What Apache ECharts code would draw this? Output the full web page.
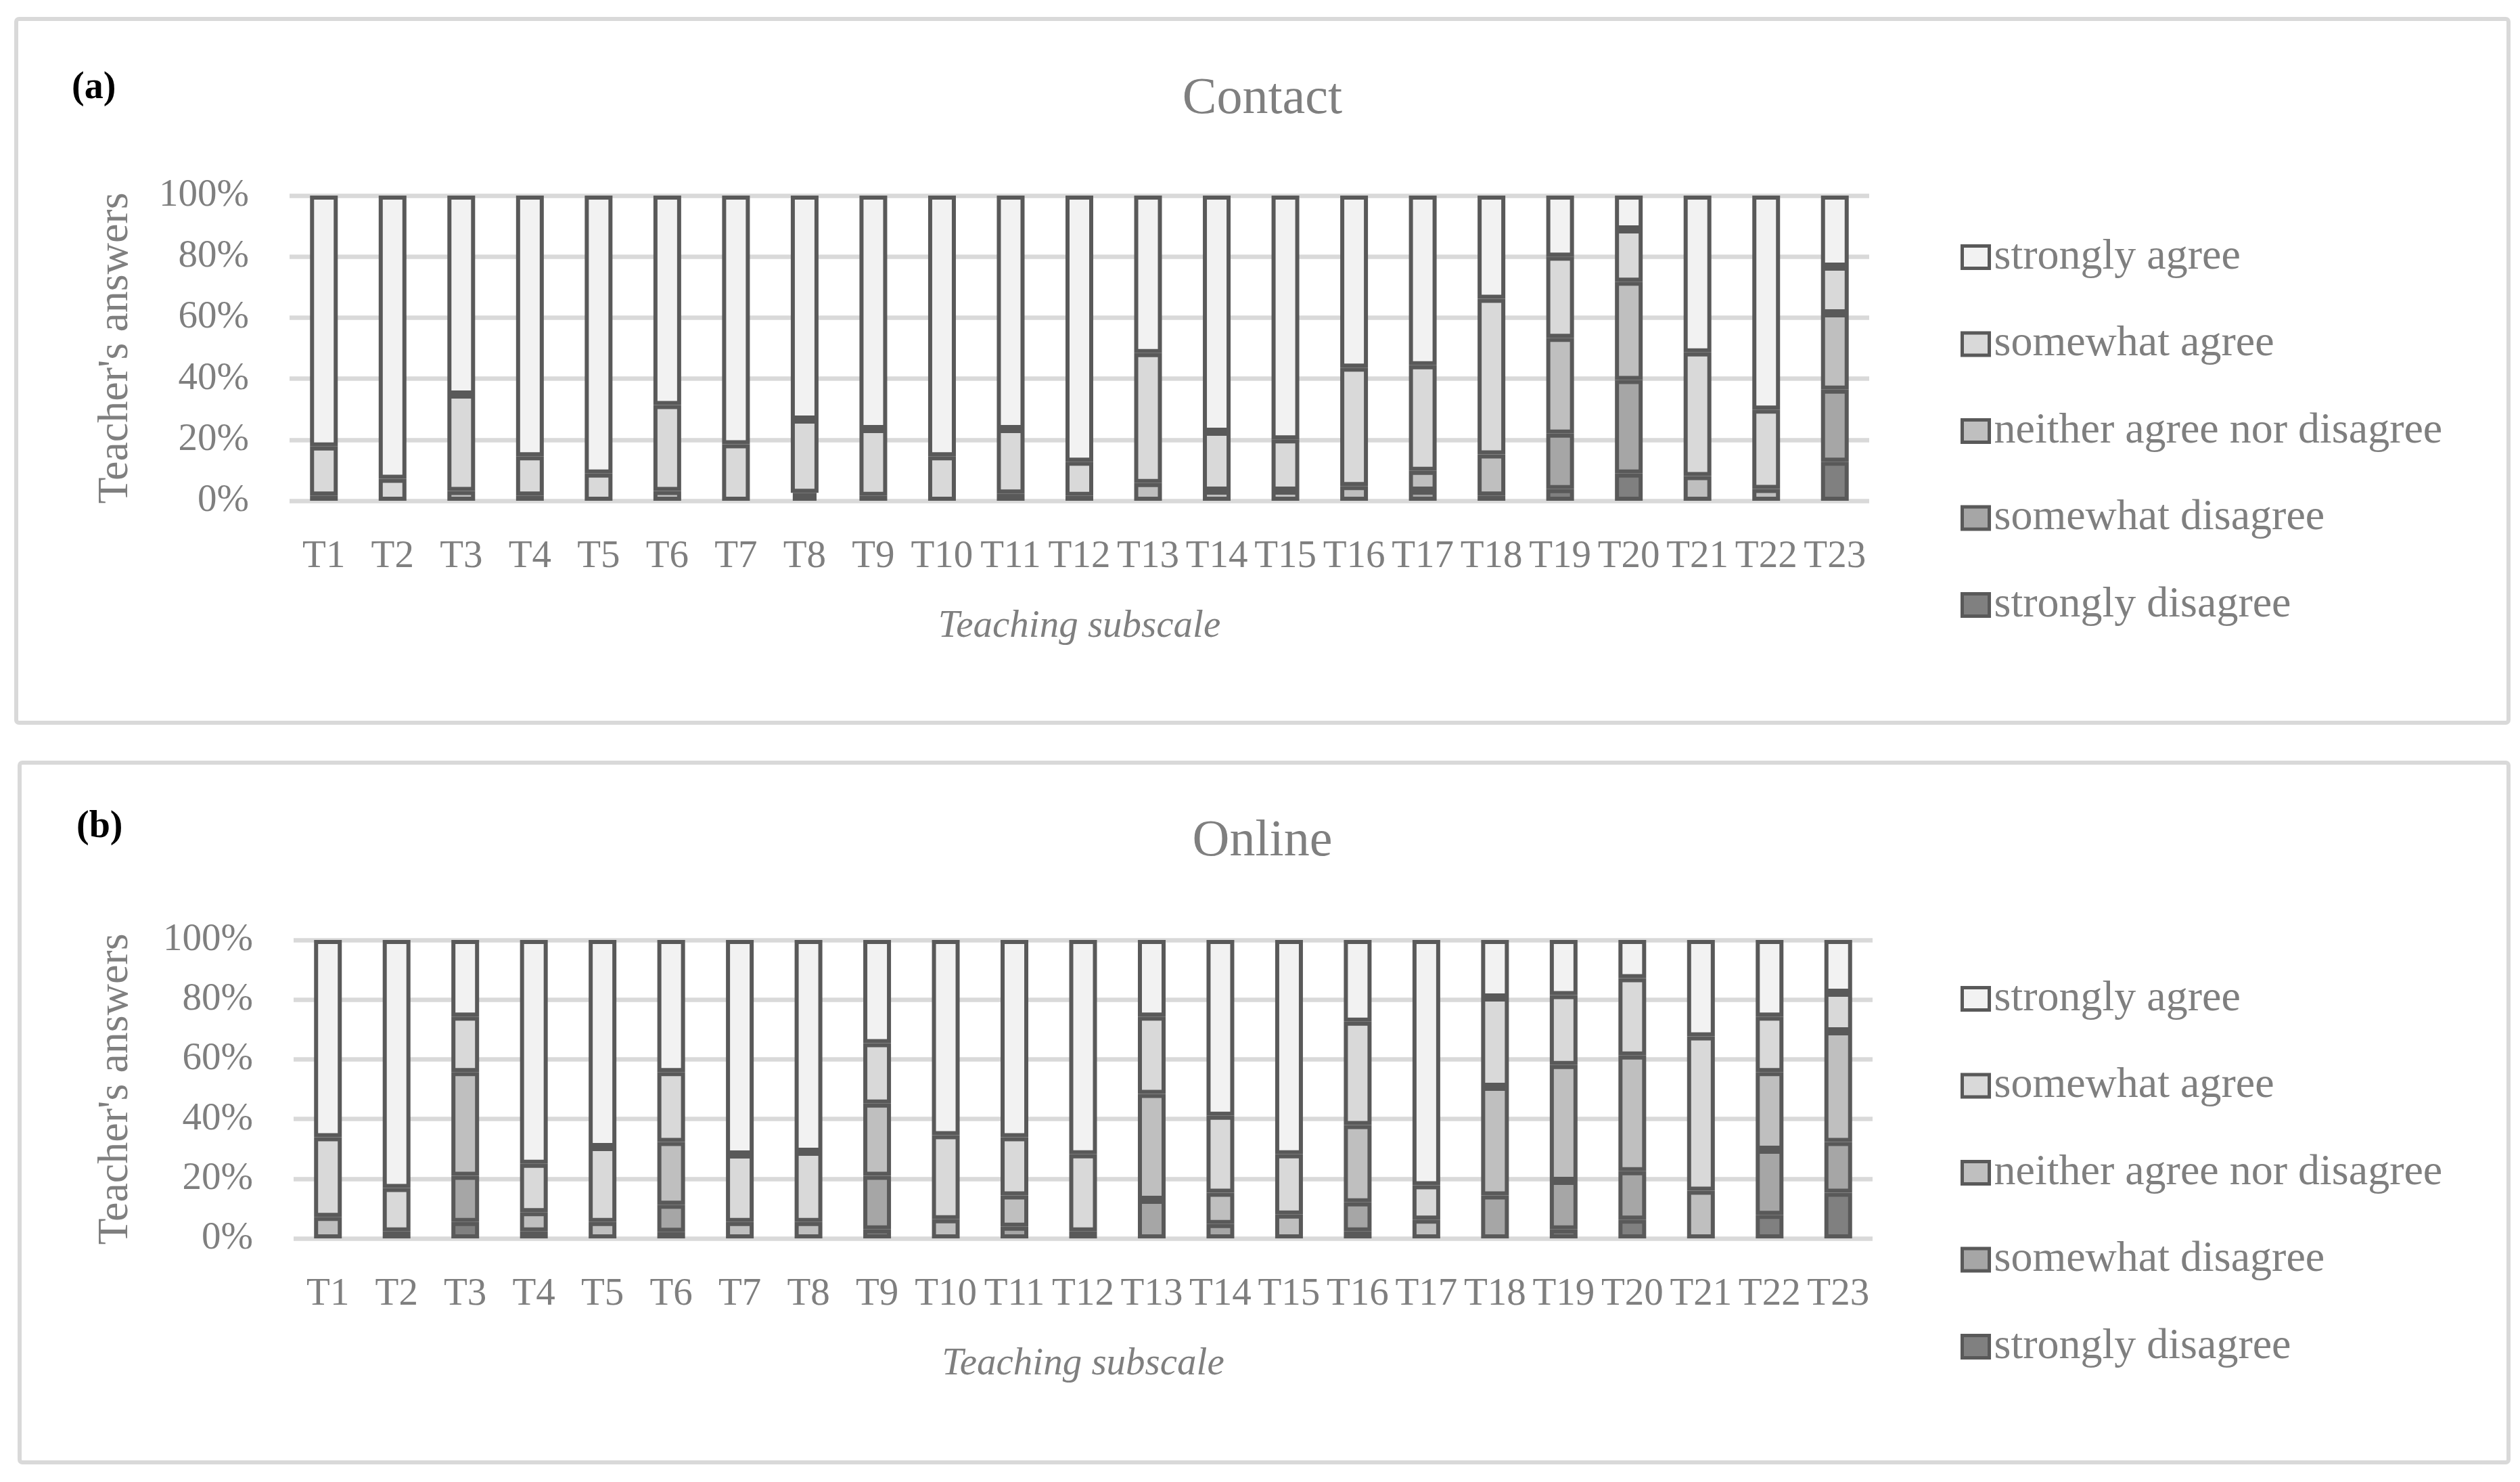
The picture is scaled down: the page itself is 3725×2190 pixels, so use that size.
<!DOCTYPE html>
<html>
<head>
<meta charset="utf-8">
<script src="https://cdn.jsdelivr.net/npm/echarts@6/dist/echarts.min.js"></script>
<style>
html,body{margin:0;padding:0;background:#fff;}
#chart{width:3725px;height:2190px;}
</style>
</head>
<body>
<div id="chart"></div>
<script>
// ---------- DATA ----------
const categories = ['T1','T2','T3','T4','T5','T6','T7','T8','T9','T10','T11','T12','T13','T14','T15','T16','T17','T18','T19','T20','T21','T22','T23'];
const seriesNames = ['strongly agree','somewhat agree','neither agree nor disagree','somewhat disagree','strongly disagree'];
const yTicks = [0, 20, 40, 60, 80, 100];

// Panel (a) Contact, percent per category
const contactStronglyAgree    = [82.2,92.8,65.2,85.4,91.1,68.6,81.5,73.4,76.5,85.4,76.5,87.2,51.6,77.4,79.9,56.4,55.6,33.8,20.0,11.1,51.4,70.1,23.3];
const contactSomewhatAgree    = [16.1, 7.2,31.6,12.9, 8.9,28.2,18.5,24.0,21.9,14.6,21.1,11.2,42.6,19.3,16.8,38.8,34.6,51.0,26.6,17.1,40.5,26.0,15.3];
const contactNeither          = [ 1.7, 0.0, 3.2, 1.7, 0.0, 3.2, 0.0, 1.3, 1.6, 0.0, 2.4, 1.6, 5.8, 3.3, 3.3, 4.8, 6.5,13.5,31.4,32.2, 8.1, 3.9,25.0];
const contactSomewhatDisagree = [ 0.0, 0.0, 0.0, 0.0, 0.0, 0.0, 0.0, 1.3, 0.0, 0.0, 0.0, 0.0, 0.0, 0.0, 0.0, 0.0, 3.3, 1.7,18.2,30.7, 0.0, 0.0,23.6];
const contactStronglyDisagree = [ 0.0, 0.0, 0.0, 0.0, 0.0, 0.0, 0.0, 0.0, 0.0, 0.0, 0.0, 0.0, 0.0, 0.0, 0.0, 0.0, 0.0, 0.0, 3.8, 8.9, 0.0, 0.0,12.8];

// Panel (b) Online, percent per category
const onlineStronglyAgree    = [66.1,83.1,25.7,75.0,69.4,44.3,71.9,71.0,34.6,65.4,66.1,71.8,25.7,58.9,71.8,27.4,82.2,19.3,18.5,12.8,32.3,25.7,17.7];
const onlineSomewhatAgree    = [26.7,14.6,18.6,16.2,25.1,23.4,22.6,23.5,20.2,28.2,19.5,25.9,25.9,25.8,20.2,34.6,11.5,29.9,23.4,25.9,51.7,18.6,12.9];
const onlineNeither          = [ 7.2, 2.3,34.7, 6.5, 5.5,21.0, 5.5, 5.5,24.2, 6.4,10.5, 2.3,35.5,10.5, 8.0,25.9, 6.3,36.4,38.8,38.8,16.0,26.0,37.1];
const onlineSomewhatDisagree = [ 0.0, 0.0,15.5, 2.3, 0.0, 9.1, 0.0, 0.0,18.0, 0.0, 3.9, 0.0,12.9, 4.8, 0.0, 9.8, 0.0,14.4,16.3,16.2, 0.0,21.8,17.0];
const onlineStronglyDisagree = [ 0.0, 0.0, 5.5, 0.0, 0.0, 2.2, 0.0, 0.0, 3.0, 0.0, 0.0, 0.0, 0.0, 0.0, 0.0, 2.3, 0.0, 0.0, 3.0, 6.3, 0.0, 7.9,15.3];

// ---------- STYLE ----------
const FONT = 'Liberation Serif';
const TXT = '#7f7f7f';
const fills = {
  'strongly agree':'#f2f2f2',
  'somewhat agree':'#d9d9d9',
  'neither agree nor disagree':'#bfbfbf',
  'somewhat disagree':'#a6a6a6',
  'strongly disagree':'#808080'
};

const chart = echarts.init(document.getElementById('chart'), null, {renderer:'canvas'});

function xAx(gi){
  return {
    type:'category', gridIndex:gi, data:categories,
    axisLine:{show:false}, axisTick:{show:false},
    axisLabel:{color:TXT, fontFamily:FONT, fontSize:57, lineHeight:57, margin:55, interval:0},
    name:'Teaching subscale', nameLocation:'middle', nameGap:158,
    nameTextStyle:{color:TXT, fontFamily:FONT, fontSize:57, fontStyle:'italic', lineHeight:57}
  };
}
function yAx(gi){
  return {
    type:'value', gridIndex:gi, min:yTicks[0], max:yTicks[yTicks.length-1], interval:yTicks[1]-yTicks[0],
    axisLine:{show:false}, axisTick:{show:false},
    axisLabel:{color:TXT, fontFamily:FONT, fontSize:57, margin:60, formatter:'{value}%'},
    splitLine:{show:true, lineStyle:{color:'#d9d9d9', width:6.5}},
    name:"Teacher's answers", nameLocation:'middle', nameGap:gi===0?225:231, nameRotate:90,
    nameTextStyle:{color:TXT, fontFamily:FONT, fontSize:64, lineHeight:64}
  };
}

const contactSets = [contactStronglyDisagree, contactSomewhatDisagree, contactNeither, contactSomewhatAgree, contactStronglyAgree];
const onlineSets  = [onlineStronglyDisagree, onlineSomewhatDisagree, onlineNeither, onlineSomewhatAgree, onlineStronglyAgree];
const stackOrder = ['strongly disagree','somewhat disagree','neither agree nor disagree','somewhat agree','strongly agree'];

const series = [];
[contactSets, onlineSets].forEach((sets, gi) => {
  sets.forEach((arr, i) => {
    const nm = stackOrder[i];
    series.push({
      type:'bar', name:nm, xAxisIndex:gi, yAxisIndex:gi, stack:'s'+gi,
      // empty (zero) segments are left out so they draw no border line
      data:arr.map(v => v === 0 ? '-' : v), barWidth:41,
      itemStyle:{color:fills[nm], borderColor:'#595959', borderWidth:6},
      emphasis:{disabled:true}
    });
  });
});

function legend(top){
  return {
    orient:'vertical', left:2893, top:top, itemGap:64.5,
    itemWidth:40, itemHeight:33, icon:'rect',
    data:seriesNames.slice(),
    selectedMode:false,
    itemStyle:{borderColor:'#595959', borderWidth:5},
    textStyle:{color:TXT, fontFamily:FONT, fontSize:64, lineHeight:64, padding:[0,0,0,2]}
  };
}

chart.setOption({
  animation:false,
  backgroundColor:'#ffffff',
  title:[
    {text:'Contact', left:1861, top:104, textAlign:'center',
     textStyle:{color:TXT, fontFamily:FONT, fontSize:76, fontWeight:'normal'}},
    {text:'Online', left:1861, top:1201, textAlign:'center',
     textStyle:{color:TXT, fontFamily:FONT, fontSize:76, fontWeight:'normal'}}
  ],
  grid:[
    {left:428, width:2335, top:289, height:451},
    {left:434, width:2334, top:1389, height:441}
  ],
  xAxis:[xAx(0), xAx(1)],
  yAxis:[yAx(0), yAx(1)],
  legend:[legend(343), legend(1439)],
  series:series,
  graphic:[
    {type:'rect', shape:{x:24, y:28, width:3684, height:1040, r:4}, style:{fill:null, stroke:'#d9d9d9', lineWidth:6}, z:-10},
    {type:'rect', shape:{x:29, y:1127, width:3679, height:1034, r:4}, style:{fill:null, stroke:'#d9d9d9', lineWidth:6}, z:-10},
    {type:'text', left:106, top:103, style:{text:'(a)', fill:'#000', font:'bold 56px "Liberation Serif"'}},
    {type:'text', left:113, top:1195, style:{text:'(b)', fill:'#000', font:'bold 56px "Liberation Serif"'}}
  ]
});
</script>
</body>
</html>
